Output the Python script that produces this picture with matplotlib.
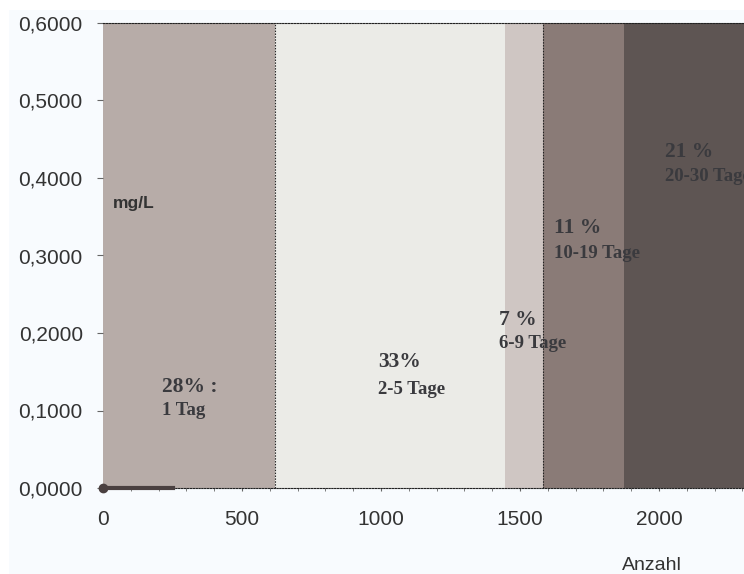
import matplotlib.pyplot as plt
from matplotlib.patches import Rectangle
from matplotlib.ticker import MultipleLocator, FuncFormatter

# band edges (Anzahl) and colours
band_edges = [0, 619, 1446, 1583, 1874, 2306]
band_colors = ['#b7aca8', '#ebebe7', '#cfc6c3', '#8a7b77', '#5e5553']
pct_labels = ['28% :', '33%', '7 %', '11 %', '21 %']
day_labels = ['1 Tag', '2-5 Tage', '6-9 Tage', '10-19 Tage', '20-30 Tage']
label_x = [212, 989, 1424, 1622, 2022]
pct_y = [0.124, 0.156, 0.210, 0.329, 0.427]
day_y = [0.094, 0.121, 0.181, 0.297, 0.396]

# measured values (near zero)
meas_x = [0, 252]
meas_y = [0.0, 0.0]

W, H = 744, 574
fig = plt.figure(figsize=(W / 100, H / 100), dpi=100)
fig.patch.set_facecolor('white')
fig.add_artist(Rectangle((9 / W, 0), 1, 1 - 10 / H, transform=fig.transFigure,
                         facecolor='#f8fbfe', edgecolor='none', zorder=0))
ax = fig.add_axes([103 / W, 86 / H, 1 - 103 / W, 465 / H])
ax.set_facecolor('#f8fbfe')

for i, c in enumerate(band_colors):
    ax.axvspan(band_edges[i], band_edges[i + 1], color=c, lw=0, zorder=1)

for xv in [band_edges[1], band_edges[3]]:
    ax.axvline(xv, color='#222222', ls=(0, (1.3, 1.3)), lw=0.8, zorder=2)

ax.plot(meas_x, meas_y, color='#4a4040', lw=3, marker='o', markevery=[0],
        markersize=6, zorder=4, clip_on=False)

for i in range(len(pct_labels)):
    ax.text(label_x[i], pct_y[i], pct_labels[i], family='Liberation Serif',
            weight='bold', fontsize=15.5, color='#3a3a3e', va='baseline', zorder=5, clip_on=True)
    ax.text(label_x[i], day_y[i], day_labels[i], family='Liberation Serif',
            weight='bold', fontsize=13.5, color='#3a3a3e', va='baseline', zorder=5, clip_on=True)

ax.text(36, 0.361, 'mg/L', family='Liberation Sans', weight='bold', fontsize=12.5,
        color='#333333', va='baseline', zorder=5)

ax.set_xlim(band_edges[0], band_edges[-1])
ax.set_ylim(0, 0.6)
ax.yaxis.set_major_locator(MultipleLocator(0.1))
ax.yaxis.set_major_formatter(FuncFormatter(lambda v, p: f'{v:.4f}'.replace('.', ',')))
ax.xaxis.set_major_locator(MultipleLocator(500))
ax.xaxis.set_minor_locator(MultipleLocator(100))

for s in ['left', 'right']:
    ax.spines[s].set_visible(False)
for s in ['top', 'bottom']:
    ax.spines[s].set_linestyle((0, (1.3, 1.3)))
    ax.spines[s].set_color('#222222')
    ax.spines[s].set_linewidth(0.8)
    ax.spines[s].set_zorder(3)

ax.tick_params(axis='y', length=4.5, color='#666666', labelsize=15, labelcolor='#333333', pad=10)
ax.tick_params(axis='x', which='both', length=2.5, color='#666666', labelsize=15,
               labelcolor='#333333', pad=13)
for lab in ax.get_xticklabels() + ax.get_yticklabels():
    lab.set_family('Liberation Sans')

fig.text(652 / W, 1 - 565 / H, 'Anzahl', family='Liberation Sans', fontsize=14,
         color='#333333', ha='center', va='center')

fig.savefig('out.png', dpi=100, facecolor=fig.get_facecolor())
